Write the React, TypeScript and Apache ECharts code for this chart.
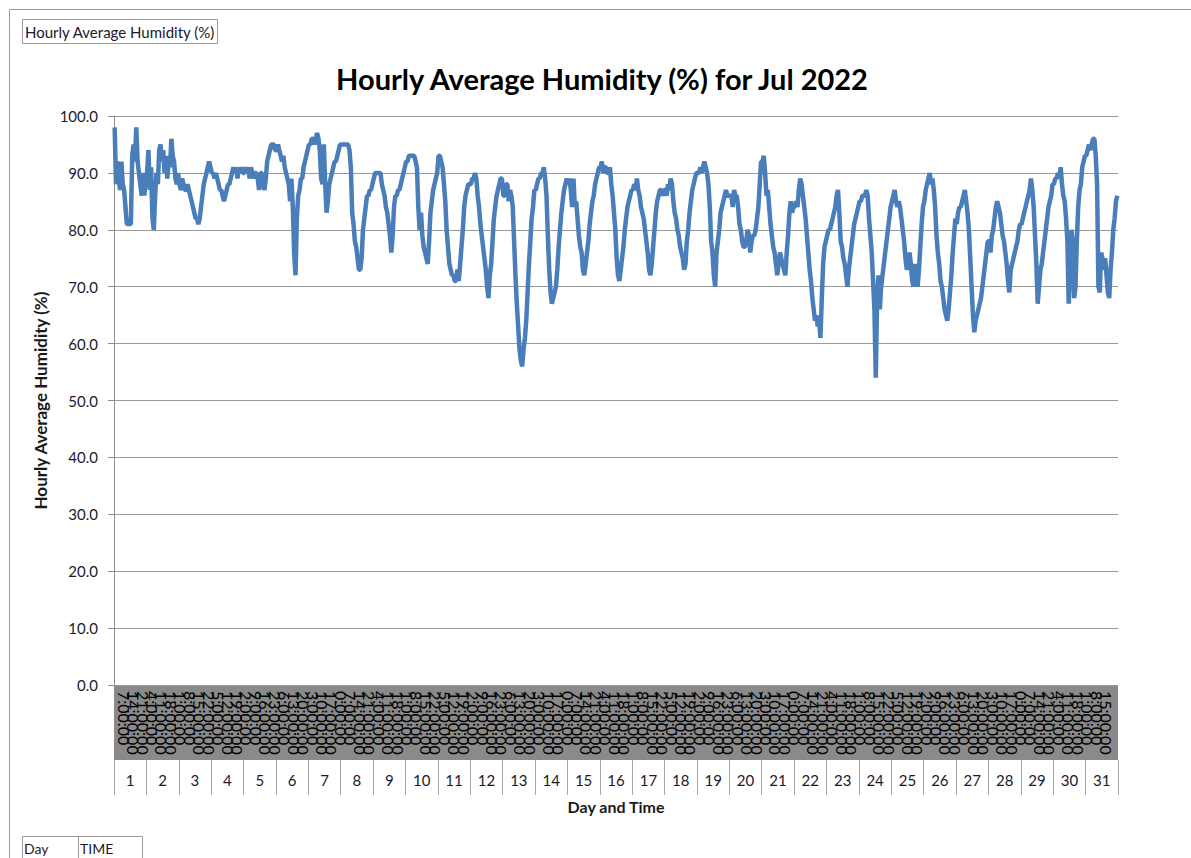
import React, { useEffect, useRef } from "react";
import * as echarts from "echarts";

// Hourly values (0:00 .. 23:00) for each day of July 2022
const day01 = [98, 88, 92, 89, 87, 92, 88, 87, 84, 81, 81, 81, 81, 93, 95, 92, 98, 92, 90, 88, 86, 90, 86, 89];
const day02 = [90, 94, 87, 91, 82, 80, 86, 90, 88, 94, 95, 92, 94, 90, 93, 89, 92, 91, 96, 93, 92, 89, 88, 90];
const day03 = [88, 87, 89, 88, 87, 87, 88, 87, 86, 85, 84, 83, 82, 82, 81, 82, 84, 86, 88, 89, 90, 91, 92, 91];
const day04 = [90, 90, 89, 90, 89, 88, 87, 87, 86, 85, 86, 87, 88, 88, 89, 90, 91, 90, 91, 89, 91, 90, 91, 90];
const day05 = [90, 91, 90, 91, 89, 91, 90, 89, 90, 90, 89, 87, 90, 90, 88, 87, 89, 92, 93, 94, 95, 95, 95, 94];
const day06 = [94, 95, 94, 93, 92, 93, 91, 90, 89, 88, 85, 89, 84, 76, 72, 82, 86, 87, 89, 89, 91, 92, 93, 94];
const day07 = [95, 95, 96, 96, 95, 96, 97, 96, 94, 89, 88, 95, 88, 83, 85, 88, 89, 90, 91, 92, 92, 93, 94, 95];
const day08 = [95, 95, 95, 95, 95, 95, 94, 91, 83, 81, 78, 77, 75, 73, 73, 75, 80, 82, 84, 86, 86, 87, 87, 88];
const day09 = [89, 90, 90, 90, 90, 90, 88, 87, 86, 84, 83, 81, 79, 76, 79, 84, 86, 86, 87, 87, 88, 89, 90, 91];
const day10 = [92, 92, 93, 93, 93, 93, 93, 92, 91, 84, 80, 83, 79, 77, 76, 75, 74, 78, 83, 85, 87, 88, 89, 90];
const day11 = [93, 93, 92, 91, 88, 85, 80, 77, 74, 73, 72, 72, 71, 71, 73, 71, 74, 77, 80, 84, 86, 87, 88, 88];
const day12 = [88, 89, 89, 90, 89, 86, 84, 81, 79, 77, 75, 73, 70, 68, 72, 74, 78, 82, 84, 86, 87, 88, 89, 89];
const day13 = [86, 86, 88, 88, 85, 87, 86, 84, 78, 72, 67, 63, 59, 57, 56, 59, 61, 64, 69, 74, 78, 82, 84, 87];
const day14 = [87, 88, 89, 89, 90, 90, 91, 89, 86, 79, 73, 69, 67, 68, 69, 70, 73, 77, 80, 83, 85, 87, 88, 89];
const day15 = [88, 89, 87, 84, 89, 84, 85, 82, 79, 77, 76, 73, 72, 74, 76, 78, 81, 83, 85, 86, 88, 89, 90, 91];
const day16 = [91, 92, 90, 91, 91, 90, 90, 91, 88, 86, 83, 80, 75, 72, 71, 73, 75, 77, 80, 82, 84, 85, 86, 87];
const day17 = [87, 88, 87, 89, 87, 86, 84, 83, 82, 80, 78, 76, 73, 72, 74, 77, 80, 83, 85, 86, 87, 87, 86, 87];
const day18 = [87, 86, 88, 87, 89, 88, 85, 83, 82, 80, 79, 77, 76, 75, 73, 74, 78, 80, 83, 85, 87, 88, 89, 90];
const day19 = [90, 90, 91, 90, 91, 92, 91, 90, 88, 84, 78, 76, 72, 70, 76, 78, 80, 83, 84, 85, 86, 87, 86, 86];
const day20 = [86, 86, 84, 87, 86, 86, 84, 81, 80, 78, 77, 77, 78, 80, 79, 76, 78, 79, 79, 80, 82, 84, 88, 92];
const day21 = [92, 93, 90, 86, 87, 84, 81, 79, 77, 76, 74, 72, 74, 76, 75, 74, 73, 72, 76, 79, 83, 85, 83, 84];
const day22 = [84, 85, 84, 87, 89, 88, 86, 84, 82, 79, 76, 73, 71, 68, 66, 64, 65, 63, 64, 61, 68, 74, 77, 78];
const day23 = [79, 80, 80, 81, 82, 83, 84, 86, 87, 83, 78, 77, 75, 74, 72, 70, 73, 75, 77, 79, 81, 82, 83, 84];
const day24 = [85, 85, 86, 86, 86, 87, 86, 82, 79, 76, 71, 66, 54, 68, 72, 66, 70, 72, 74, 76, 78, 80, 82, 84];
const day25 = [85, 86, 87, 85, 84, 85, 84, 82, 80, 78, 75, 73, 74, 76, 74, 71, 70, 74, 72, 70, 73, 77, 81, 84];
const day26 = [85, 87, 88, 89, 90, 88, 89, 87, 84, 79, 76, 74, 71, 70, 68, 66, 65, 64, 66, 69, 72, 76, 79, 82];
const day27 = [81, 83, 84, 84, 85, 86, 87, 85, 83, 80, 75, 70, 65, 62, 64, 65, 66, 67, 68, 70, 72, 74, 76, 78];
const day28 = [78, 76, 79, 80, 82, 84, 85, 84, 83, 81, 79, 78, 76, 74, 71, 69, 73, 74, 75, 76, 77, 78, 80, 81];
const day29 = [81, 82, 83, 84, 85, 86, 87, 89, 87, 84, 79, 74, 67, 70, 73, 74, 76, 78, 80, 82, 84, 85, 86, 88];
const day30 = [88, 89, 89, 90, 89, 91, 88, 86, 85, 82, 78, 67, 73, 80, 78, 68, 70, 78, 84, 87, 88, 91, 92, 93];
const day31 = [93, 94, 95, 94, 95, 96, 96, 93, 88, 70, 69, 76, 75, 73, 75, 72, 69, 68, 73, 76, 80, 82, 85, 86];

const dayValues = [
  day01, day02, day03, day04, day05, day06, day07, day08, day09, day10,
  day11, day12, day13, day14, day15, day16, day17, day18, day19, day20,
  day21, day22, day23, day24, day25, day26, day27, day28, day29, day30, day31,
];

const dayLabels = dayValues.map((_, i) => String(i + 1));
const hourLabels = Array.from({ length: 24 }, (_, h) => `${h}:00:00`);
const yTicks = [0, 10, 20, 30, 40, 50, 60, 70, 80, 90, 100];

const FONT = "Lato";

export default function App() {
  const ref = useRef<HTMLDivElement>(null);
  useEffect(() => {
    if (!ref.current) return;
    const chart = echarts.init(ref.current, null, { renderer: "svg" });
    const timeCats: string[] = [];
    const values: number[] = [];
    dayValues.forEach((arr) => {
      arr.forEach((v, h) => {
        timeCats.push(hourLabels[h]);
        values.push(v);
      });
    });
    const L = 114, R = 1118, T = 116, B = 685;
    chart.setOption({
      animation: false,
      backgroundColor: "#ffffff",
      textStyle: { fontFamily: FONT },
      grid: { left: L, right: 1191 - R, top: T, bottom: 858 - B, containLabel: false },
      xAxis: [
        {
          type: "category",
          data: timeCats,
          boundaryGap: true,
          axisLine: { show: false },
          axisTick: { show: false },
          splitLine: { show: false },
          axisLabel: {
            interval: 6,
            rotate: -90,
            margin: 6,
            fontSize: 16,
            color: "#000000",
            fontFamily: FONT,
          },
          z: 5,
        },
        {
          type: "category",
          data: dayLabels,
          position: "bottom",
          offset: 75,
          boundaryGap: true,
          axisLine: { show: false },
          axisTick: { show: true, length: 35, interval: 0, lineStyle: { color: "#a6a6a6", width: 1 } },
          axisLabel: { interval: 0, margin: 12, fontSize: 15, color: "#1a1a2a", fontFamily: FONT },
          name: "Day and Time",
          nameLocation: "middle",
          nameGap: 38,
          nameTextStyle: { fontSize: 16, fontWeight: "bold", color: "#1a1a1a", fontFamily: FONT },
        },
      ],
      yAxis: {
        type: "value",
        min: 0,
        max: 100,
        interval: 10,
        axisLine: { show: true, lineStyle: { color: "#8c8c8c", width: 1 } },
        axisTick: { show: true, length: 6, lineStyle: { color: "#8c8c8c" } },
        splitLine: { show: true, lineStyle: { color: "#9a9a9a", width: 1 } },
        axisLabel: {
          formatter: (v: number) => (yTicks.includes(v) ? v.toFixed(1) : ""),
          margin: 16,
          fontSize: 15,
          color: "#1a1a2a",
          fontFamily: FONT,
        },
        name: "Hourly Average Humidity (%)",
        nameLocation: "middle",
        nameGap: 63,
        nameRotate: 90,
        nameTextStyle: { fontSize: 17, fontWeight: "bold", color: "#1a1a1a", fontFamily: FONT },
      },
      series: [
        {
          type: "line",
          data: values,
          xAxisIndex: 0,
          symbol: "none",
          lineStyle: { color: "#4a7ebb", width: 4.5 },
          itemStyle: { color: "#4a7ebb" },
          z: 10,
        },
      ],
      graphic: [
        { type: "rect", z: -100, shape: { x: L, y: B, width: R - L, height: 75 }, style: { fill: "#8a8a8a" }, silent: true },
        { type: "line", shape: { x1: 9.5, y1: 9.5, x2: 1191, y2: 9.5 }, style: { stroke: "#9a9a9a", lineWidth: 1 } },
        { type: "line", shape: { x1: 9.5, y1: 9.5, x2: 9.5, y2: 858 }, style: { stroke: "#9a9a9a", lineWidth: 1 } },
        { type: "rect", shape: { x: 22.5, y: 19.5, width: 195, height: 24 }, style: { fill: "#ffffff", stroke: "#9a9a9a", lineWidth: 1 } },
        { type: "text", x: 25, y: 32, style: { text: "Hourly Average Humidity (%)", fontSize: 15, fontFamily: FONT, fill: "#1a1a2a", textVerticalAlign: "middle" } },
        {
          type: "text", x: 602, y: 78,
          style: { text: "Hourly Average Humidity (%) for Jul 2022", fontSize: 29, fontWeight: "bold", fontFamily: FONT, fill: "#000000", textAlign: "center", textVerticalAlign: "middle" },
        },
        { type: "rect", shape: { x: 22.5, y: 836.5, width: 120, height: 30 }, style: { fill: "#ffffff", stroke: "#9a9a9a", lineWidth: 1 } },
        { type: "line", shape: { x1: 78.5, y1: 836.5, x2: 78.5, y2: 858 }, style: { stroke: "#9a9a9a", lineWidth: 1 } },
        { type: "text", x: 24, y: 848, style: { text: "Day", fontSize: 14, fontFamily: FONT, fill: "#1a1a2a", textVerticalAlign: "middle" } },
        { type: "text", x: 80, y: 848, style: { text: "TIME", fontSize: 14, fontFamily: FONT, fill: "#1a1a2a", textVerticalAlign: "middle" } },
      ],
    });
    return () => chart.dispose();
  }, []);
  return <div ref={ref} style={{ position: "absolute", left: 0, top: 0, width: 1191, height: 858 }} />;
}
